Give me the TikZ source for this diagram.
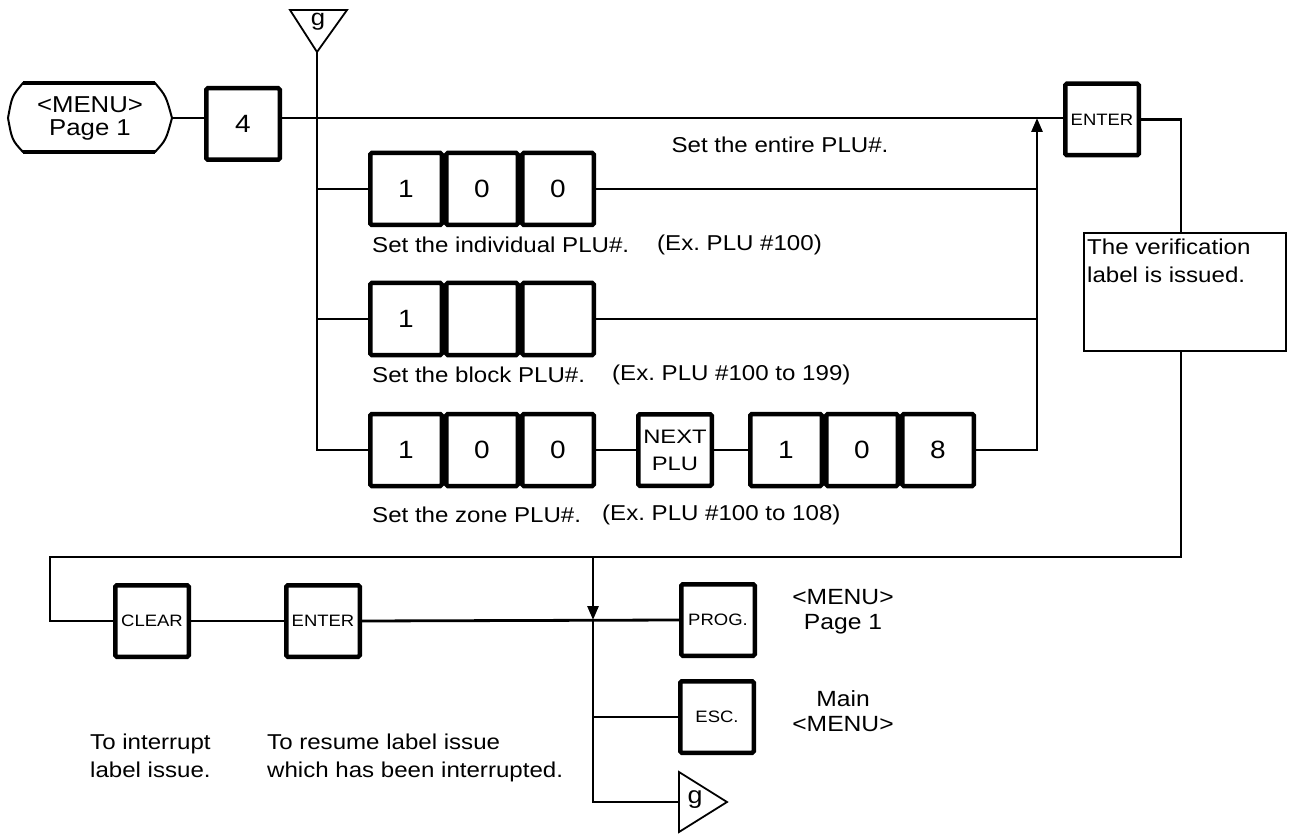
\documentclass[tikz,border=0pt]{standalone}
\usepackage{fontspec}
\setmainfont{Liberation Sans}[FakeStretch=1.12]
\newfontfamily\widefont{Liberation Sans}[FakeStretch=1.22]
\usetikzlibrary{arrows.meta}
\begin{document}
\frenchspacing
\begin{tikzpicture}[x=1pt,y=-1pt,
  key/.style={draw, line width=4.5pt, rounded corners=1.5pt, minimum width=73.5pt, minimum height=71.5pt, inner sep=0pt, font=\fontsize{25}{25}\selectfont},
  cell/.style={key, minimum width=71.5pt, minimum height=72pt},
  smallkey/.style={key, font=\fontsize{16.5}{16.5}\selectfont},
  conn/.style={line width=2.8pt},
  thin/.style={line width=1.8pt},
  lbl/.style={font=\fontsize{21.5}{28}\selectfont, inner sep=0pt},
  arr/.style={-{Triangle[length=14pt,width=11pt]}},
]
\useasboundingbox (0,0) rectangle (1293,834);

% start menu
\node[lbl, font=\fontsize{23}{23}\selectfont, align=center] (menu) at (90,118) {<MENU>\\Page 1};
\draw[line width=2pt] (23,83) -- (155,83) .. controls (166,96) .. (172,118) .. controls (166,140) .. (155,152) -- (23,152) .. controls (12,140) .. (8,118) .. controls (12,96) .. (23,83) -- cycle;
\draw[line width=4pt] (23,83) -- (155,83) (23,152) -- (155,152);
\coordinate (menuE) at (172,118);

\node[key] (k4) at (243,124) {4};

% top g connector
\draw[thin] (290,10) -- (347,10) -- (317,52) -- cycle;
\node[lbl, font=\fontsize{23}{23}\selectfont] (gtop) at (318,22) {g};
\coordinate (gtip) at (317,52);

% enter top
\node[smallkey] (ent1) at (1102,119.5) {ENTER};

% main line
\draw[conn] (menuE) -- (menuE -| k4.west);
\draw[conn] (k4.east |- menuE) -- (ent1.west |- menuE);

% rows
\node[cell] (r1a) at (406,189) {1};
\node[cell] (r1b) at (482,189) {0};
\node[cell] (r1c) at (558,189) {0};
\node[cell] (r2a) at (406,319) {1};
\node[cell] (r2b) at (482,319) {};
\node[cell] (r2c) at (558,319) {};
\node[cell] (r3a) at (406,450) {1};
\node[cell] (r3b) at (482,450) {0};
\node[cell] (r3c) at (558,450) {0};
\node[key, font=\widefont\fontsize{19.5}{27}\selectfont, align=center] (nx) at (675,450) {NEXT\\PLU};
\node[cell] (r3d) at (786,450) {1};
\node[cell] (r3e) at (862,450) {0};
\node[cell] (r3f) at (938,450) {8};

\coordinate (up) at (1037,118);
\draw[conn] (gtip) |- (r3a.west);
\draw[conn] (r1a.west -| gtip) -- (r1a.west);
\draw[conn] (r2a.west -| gtip) -- (r2a.west);
\draw[conn] (r3c.east) -- (nx.west);
\draw[conn] (nx.east) -- (r3d.west);
\draw[conn] (r1c.east) -- (r1c.east -| up);
\draw[conn] (r2c.east) -- (r2c.east -| up);
\draw[conn, arr] (r3f.east) -| (up);

\node[lbl] (entire) at (780,145) {Set the entire PLU\#.};
\node[lbl, anchor=west] (l1) at (372,245) {Set the individual PLU\#.};
\node[lbl, anchor=west] (e1) at (657,245) {(Ex. PLU \#100)};
\node[lbl, anchor=west] (l2) at (372,375) {Set the block PLU\#.};
\node[lbl, anchor=west] (e2) at (612,375) {(Ex. PLU \#100 to 199)};
\node[lbl, anchor=west] (l3) at (372,515) {Set the zone PLU\#.};
\node[lbl, anchor=west] (e3) at (602,515) {(Ex. PLU \#100 to 108)};

% verification box
\node[draw, thin, minimum width=202pt, minimum height=118pt, anchor=north west, inner sep=0pt] (ver) at (1083,232) {};
\node[lbl, anchor=north west, align=left] (vertext) at (1087,239) {The verification\\label is issued.};
\coordinate (vx) at (1181,0);
\draw[conn] (ent1.east) -| (ver.north -| vx);

% bottom
\node[smallkey] (clr) at (152,621) {CLEAR};
\node[smallkey] (ent2) at (323,621) {ENTER};
\node[smallkey] (prog) at (718,620) {PROG.};
\node[smallkey] (esc) at (717,717) {ESC.};
\coordinate (bl) at (50,557);
\coordinate (jx) at (593,557);
\draw[conn] (ver.south -| vx) |- (bl) |- (clr.west);
\draw[conn] (clr.east) -- (ent2.west);
\draw[conn] (ent2.east) -- (prog.west);
\draw[conn, arr] (jx) -- (jx |- prog.west);

\draw[thin] (679,772) -- (727,802) -- (679,832) -- cycle;
\node[lbl, font=\fontsize{24}{24}\selectfont] (gbot) at (695,800) {g};
\coordinate (gin) at (679,802);
\draw[conn] (jx |- prog.west) |- (gin);
\draw[conn] (jx |- esc.west) -- (esc.west);

\node[lbl, font=\fontsize{22}{25}\selectfont, align=center] (m1) at (843,612) {<MENU>\\Page 1};
\node[lbl, font=\fontsize{22}{25}\selectfont, align=center] (m2) at (843,711) {Main\\<MENU>};
\node[lbl, anchor=north west, align=left, font=\fontsize{21.5}{28}\selectfont] (t1) at (90,734) {To interrupt\\label issue.};
\node[lbl, anchor=north west, align=left, font=\fontsize{21.5}{28}\selectfont] (t2) at (267,734) {To resume label issue\\which has been interrupted.};
\end{tikzpicture}
\end{document}
